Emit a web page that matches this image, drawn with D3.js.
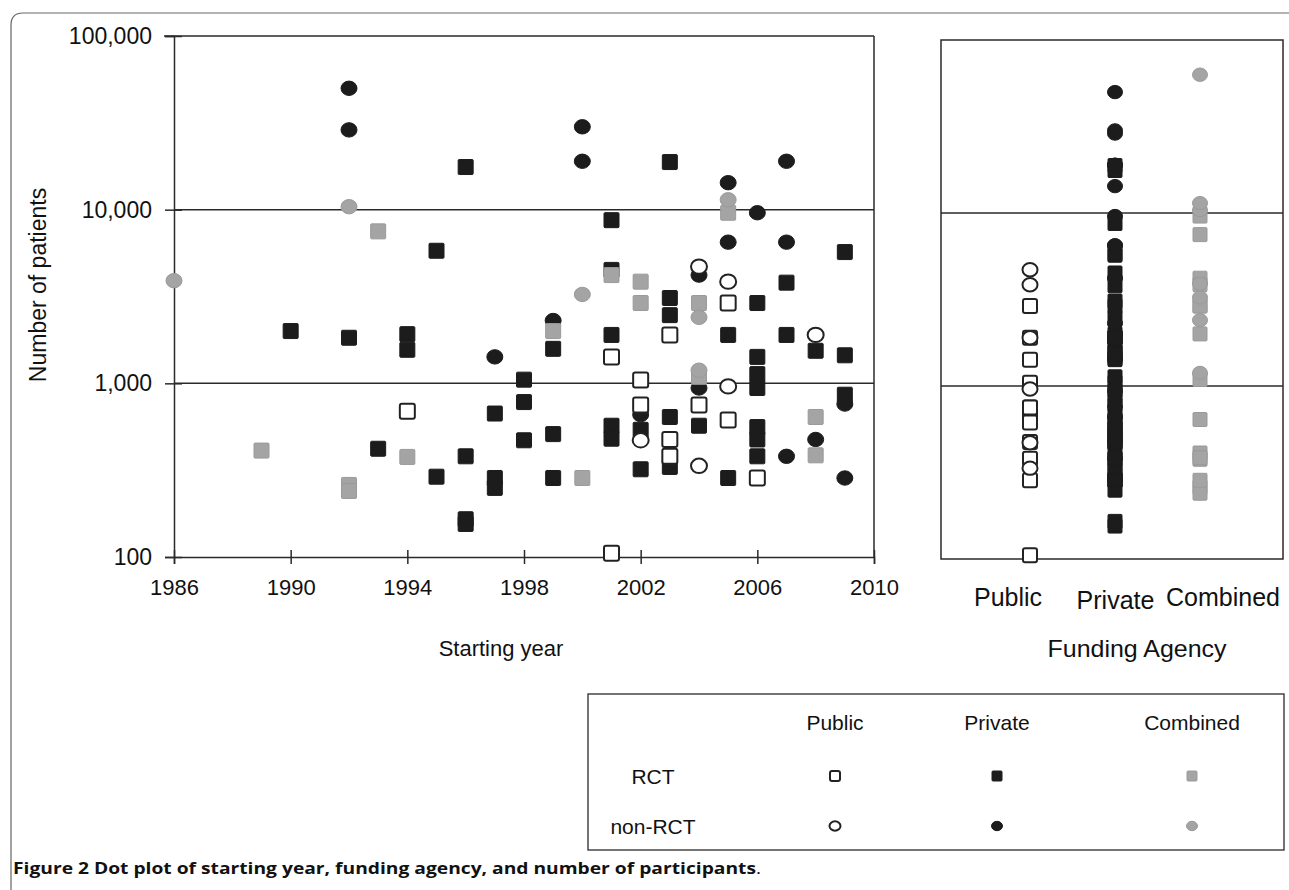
<!DOCTYPE html>
<html><head><meta charset="utf-8">
<script src="https://cdn.jsdelivr.net/npm/d3@7"></script>
<style>
html,body{margin:0;padding:0;background:#fff;}
svg{display:block;}
text{font-family:"Liberation Sans",Arial,sans-serif;fill:#111;}
.cap{font-family:"Open Sans","Noto Sans",sans-serif;}
</style></head><body>
<svg id="chart" width="1289" height="890"></svg>
<script>
// ---------- data ----------
const yearTicks = [1986, 1990, 1994, 1998, 2002, 2006, 2010];
const patientTicks = [100, 1000, 10000, 100000];
const gridTicks = [1000, 10000];
const fundingCategories = ["Public", "Private", "Combined"];
const designCategories = ["RCT", "non-RCT"];

// [starting year, number of patients]
const publicRCT = [
  [1994, 690], [2001, 1420], [2001, 105], [2002, 1045], [2002, 750],
  [2003, 1900], [2003, 475], [2003, 380], [2004, 750], [2005, 2900],
  [2005, 615], [2006, 285]
];
const publicNonRCT = [
  [2002, 470], [2004, 4700], [2004, 335], [2005, 3850], [2005, 960], [2008, 1900]
];
const privateRCT = [
  [1990, 2000], [1992, 1830], [1993, 420], [1994, 1920], [1994, 1560],
  [1995, 5800], [1995, 290], [1996, 17600], [1996, 380], [1996, 165], [1996, 155],
  [1997, 670], [1997, 285], [1997, 250], [1998, 1050], [1998, 780], [1998, 470],
  [1999, 1580], [1999, 510], [1999, 285], [2001, 8700], [2001, 4500], [2001, 1900],
  [2001, 570], [2001, 480], [2002, 540], [2002, 320], [2003, 18800], [2003, 3100],
  [2003, 2470], [2003, 640], [2003, 330], [2004, 570], [2005, 1900], [2005, 285],
  [2006, 2900], [2006, 1420], [2006, 1130], [2006, 940], [2006, 560], [2006, 475],
  [2006, 380], [2007, 3800], [2007, 1900], [2008, 1540], [2009, 5700], [2009, 1450],
  [2009, 860]
];
const privateNonRCT = [
  [1992, 50000], [1992, 28800], [1997, 1420], [1999, 2300], [2000, 30000],
  [2000, 19000], [2002, 660], [2004, 4200], [2004, 940], [2005, 14300], [2005, 6500],
  [2006, 9600], [2007, 19000], [2007, 6500], [2007, 380], [2008, 475], [2009, 760],
  [2009, 285]
];
const combinedRCT = [
  [1989, 410], [1992, 260], [1992, 240], [1993, 7500], [1994, 377], [1999, 2000],
  [2000, 285], [2001, 4200], [2002, 3850], [2002, 2900], [2004, 2900], [2004, 1090],
  [2005, 9600], [2008, 640], [2008, 385]
];
const combinedNonRCT = [
  [1986, 3900], [1992, 10400], [2000, 3250], [2004, 2400], [2004, 1190], [2005, 11400]
];
// studies shown only in the funding panel (no starting year plotted)
const combinedNonRCTUndated = [63000];

// ---------- series table built from the arrays ----------
const series = [
  {funding: "Private", design: "RCT", pts: privateRCT},
  {funding: "Private", design: "non-RCT", pts: privateNonRCT},
  {funding: "Combined", design: "RCT", pts: combinedRCT},
  {funding: "Combined", design: "non-RCT", pts: combinedNonRCT},
  {funding: "Public", design: "RCT", pts: publicRCT},
  {funding: "Public", design: "non-RCT", pts: publicNonRCT}
];
const fill = {Public: "#ffffff", Private: "#1c1c1c", Combined: "#a4a4a4"};
const stroke = {Public: "#222", Private: "#1c1c1c", Combined: "#9a9a9a"};

const svg = d3.select("#chart");
const ink = "#2a2a2a";

// page frame
svg.append("path").attr("d", "M11,890 V25 Q11,13 23,13 H1289")
  .attr("fill", "none").attr("stroke", "#666").attr("stroke-width", 1.2);

// ---------- left panel ----------
const x = d3.scaleLinear().domain([1986, 2010]).range([174, 874]);
const y = d3.scaleLog().domain([100, 100000]).range([557, 36]);

const L = svg.append("g");
L.selectAll(".grid").data(gridTicks).join("line")
  .attr("x1", x(1986)).attr("x2", x(2010))
  .attr("y1", d => y(d)).attr("y2", d => y(d))
  .attr("stroke", ink).attr("stroke-width", 1.5);
L.append("line").attr("x1", x(1986) - 10).attr("x2", x(2010)).attr("y1", y(100000)).attr("y2", y(100000))
  .attr("stroke", ink).attr("stroke-width", 1.5);
L.append("line").attr("x1", x(2010)).attr("x2", x(2010)).attr("y1", y(100000)).attr("y2", y(100))
  .attr("stroke", ink).attr("stroke-width", 1.5);

const yAxis = L.append("g").attr("transform", `translate(${x(1986)},0)`)
  .call(d3.axisLeft(y).tickValues(patientTicks).tickFormat(d3.format(",")).tickSizeOuter(0).tickSize(9).tickPadding(13));
yAxis.selectAll("line").attr("x1", 8).attr("stroke", ink).attr("stroke-width", 1.5);
yAxis.select(".domain").attr("stroke", ink).attr("stroke-width", 1.5);
yAxis.selectAll("text").attr("font-size", 23).attr("fill", "#111").style("font-family", '"Liberation Sans",Arial,sans-serif');

const xAxis = L.append("g").attr("transform", `translate(0,${y(100)})`)
  .call(d3.axisBottom(x).tickValues(yearTicks).tickFormat(d3.format("d")).tickSizeOuter(0).tickSize(7).tickPadding(15));
xAxis.selectAll("line").attr("y1", -7).attr("stroke", ink).attr("stroke-width", 1.5);
xAxis.select(".domain").attr("stroke", ink).attr("stroke-width", 1.5);
xAxis.selectAll("text").attr("font-size", 22).attr("fill", "#111").style("font-family", '"Liberation Sans",Arial,sans-serif');

L.append("text").attr("x", 501).attr("y", 656).attr("text-anchor", "middle")
  .attr("font-size", 22).text("Starting year");
L.append("text").attr("transform", "translate(46,285) rotate(-90)").attr("text-anchor", "middle")
  .attr("font-size", 23).text("Number of patients");

function drawMarker(sel, design, funding, size) {
  if (design === "RCT") {
    sel.append("rect").attr("x", -size / 2).attr("y", -size / 2).attr("width", size).attr("height", size)
      .attr("rx", funding === "Public" ? 2 : 1)
      .attr("fill", fill[funding]).attr("stroke", stroke[funding])
      .attr("stroke-width", funding === "Public" ? 2 : 1);
  } else {
    sel.append("ellipse").attr("rx", size / 2 + 0.5).attr("ry", size / 2 - 0.3)
      .attr("fill", fill[funding]).attr("stroke", stroke[funding])
      .attr("stroke-width", funding === "Public" ? 2 : 1);
  }
}

series.forEach(s => {
  L.append("g").selectAll("g").data(s.pts).join("g")
    .attr("transform", d => `translate(${x(d[0])},${y(d[1])})`)
    .each(function () { drawMarker(d3.select(this), s.design, s.funding, 15); });
});

// ---------- right panel ----------
const xR = d3.scalePoint().domain(fundingCategories).range([1030, 1200]);
const xRLabel = d3.scalePoint().domain(fundingCategories).range([1008, 1223]);
const yR = d3.scaleLog().domain([100, 100000]).range([559, 40]);
const R = svg.append("g");
R.selectAll(".grid").data(gridTicks).join("line")
  .attr("x1", 941).attr("x2", 1283).attr("y1", d => yR(d)).attr("y2", d => yR(d))
  .attr("stroke", ink).attr("stroke-width", 1.5);
R.append("rect").attr("x", 941).attr("y", yR(100000)).attr("width", 1283 - 941).attr("height", yR(100) - yR(100000))
  .attr("fill", "none").attr("stroke", ink).attr("stroke-width", 1.5);

series.forEach(s => {
  const pts = s.pts.map(d => d[1]);
  if (s.funding === "Combined" && s.design === "non-RCT") pts.push(...combinedNonRCTUndated);
  R.append("g").selectAll("g").data(pts).join("g")
    .attr("transform", d => `translate(${xR(s.funding)},${yR(d)})`)
    .each(function () { drawMarker(d3.select(this), s.design, s.funding, 14); });
});

R.selectAll(".flab").data(fundingCategories).join("text")
  .attr("x", d => xRLabel(d)).attr("y", (d, i) => i === 1 ? 609 : 606)
  .attr("text-anchor", "middle").attr("font-size", 25).text(d => d);
R.append("text").attr("x", 1137).attr("y", 657).attr("text-anchor", "middle")
  .attr("font-size", 24).attr("textLength", 179).attr("lengthAdjust", "spacingAndGlyphs").text("Funding Agency");

// ---------- legend ----------
const legX = d3.scaleOrdinal().domain(fundingCategories).range([835, 997, 1192]);
const legY = d3.scaleOrdinal().domain(designCategories).range([776, 826]);
const G = svg.append("g");
G.append("rect").attr("x", 588).attr("y", 694).attr("width", 696).attr("height", 156)
  .attr("fill", "none").attr("stroke", ink).attr("stroke-width", 1.3);
G.selectAll(".lh").data(fundingCategories).join("text")
  .attr("x", d => legX(d)).attr("y", 730).attr("text-anchor", "middle").attr("font-size", 21).text(d => d);
G.selectAll(".lr").data(designCategories).join("text")
  .attr("x", 653).attr("y", d => legY(d) + 8).attr("text-anchor", "middle").attr("font-size", 21).text(d => d);
designCategories.forEach(dz => fundingCategories.forEach(f => {
  const g = G.append("g").attr("transform", `translate(${legX(f)},${legY(dz)})`);
  drawMarker(g, dz, f, 10);
}));

// ---------- caption ----------
const cap = svg.append("text").attr("class", "cap").attr("x", 13).attr("y", 874).attr("font-size", 15.5)
  .attr("textLength", 748).attr("lengthAdjust", "spacingAndGlyphs");
cap.append("tspan").attr("font-weight", 700).text("Figure 2 Dot plot of starting year, funding agency, and number of participants");
cap.append("tspan").text(".");
</script>
</body></html>
